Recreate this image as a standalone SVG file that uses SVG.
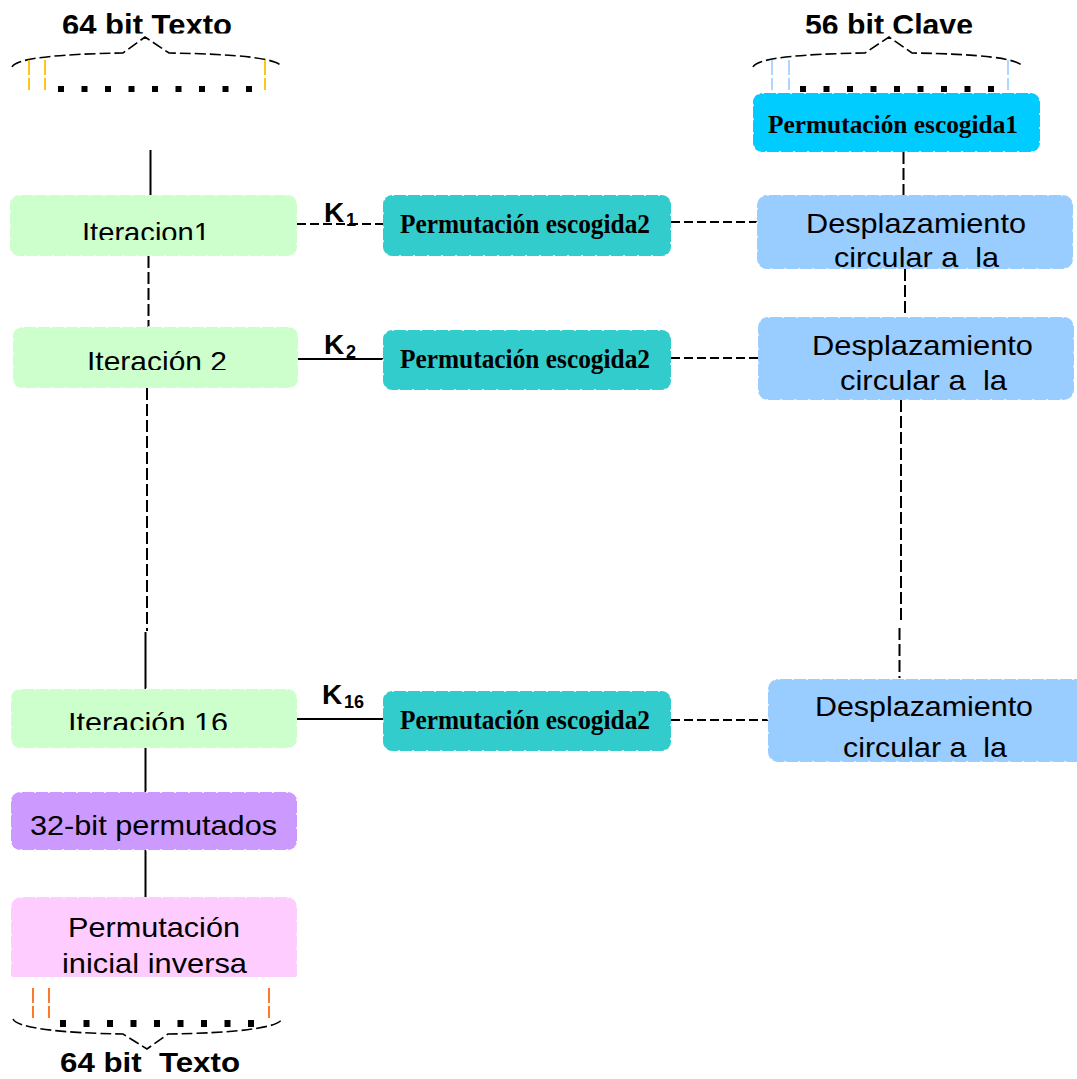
<svg xmlns="http://www.w3.org/2000/svg" width="1077" height="1079" viewBox="0 0 1077 1079">
  <style>
    .box { stroke: #ffffff; stroke-width: 1.5; stroke-dasharray: 2 12; }
    .iter { fill: #CCFFCC; }
    .pc2 { fill: #33CCCC; }
    .pc1 { fill: #00CCFF; }
    .shift { fill: #99CCFF; }
    .p32 { fill: #CC99FF; }
    .inv { fill: #FFCCFF; }
    .sans { font-family: "Liberation Sans", Arial, sans-serif; fill: #000; }
    .lbl { font-size: 28px; text-anchor: middle; }
    .ttl { font-size: 30px; font-weight: bold; text-anchor: middle; }
    .ttl2 { font-size: 28px; font-weight: bold; text-anchor: middle; }
    .serif { font-family: "Liberation Serif", "Times New Roman", serif; font-weight: bold; text-anchor: middle; fill: #000; }
    .s1 { font-size: 26px; }
    .s2 { font-size: 28px; }
    .k { font-size: 28px; font-weight: bold; }
    .ksub { font-size: 18px; font-weight: bold; }
    .solid { stroke: #000; stroke-width: 2; fill: none; }
    .dash { stroke: #000; stroke-width: 2; fill: none; stroke-dasharray: 12 4; }
    .hdash { stroke: #000; stroke-width: 1.8; fill: none; stroke-dasharray: 9 4; }
    .brace { stroke: #000; stroke-width: 1.6; fill: none; stroke-dasharray: 11 4; }
    .dot { fill: #000; }
    .tick { stroke-width: 1.8; stroke-dasharray: 15 3; fill: none; }
    .pre { white-space: pre; }
  </style>
  <defs>
    <clipPath id="clipTop"><rect x="0" y="0" width="1077" height="33.5"/></clipPath>
    <clipPath id="clipIt1"><rect x="0" y="190" width="310" height="50"/></clipPath>
    <clipPath id="clipIt2"><rect x="0" y="320" width="310" height="50"/></clipPath>
    <clipPath id="clipIt16"><rect x="0" y="680" width="310" height="50"/></clipPath>
    <clipPath id="clipInv"><rect x="0" y="890" width="310" height="87"/></clipPath>
  </defs>

  <!-- plaintext input bus -->
  <g id="input-bits">
    <text class="sans ttl" x="147" y="34.5" textLength="170" lengthAdjust="spacingAndGlyphs" clip-path="url(#clipTop)">64 bit Texto</text>
    <path class="brace" d="M12,67 C16,58 60,54 123,53 L145,37 L169,53 C236,54 278,58 282,67"/>
    <g stroke="#FFC000" class="tick">
      <line x1="29" y1="60" x2="29" y2="90"/>
      <line x1="45" y1="60" x2="45" y2="90"/>
      <line x1="265" y1="60" x2="265" y2="90"/>
    </g>
    <g class="dot">
      <rect x="58" y="86" width="6" height="6"/>
      <rect x="81.5" y="86" width="6" height="6"/>
      <rect x="105" y="86" width="6" height="6"/>
      <rect x="128.5" y="86" width="6" height="6"/>
      <rect x="152" y="86" width="6" height="6"/>
      <rect x="175.5" y="86" width="6" height="6"/>
      <rect x="199" y="86" width="6" height="6"/>
      <rect x="222.5" y="86" width="6" height="6"/>
      <rect x="246" y="86" width="6" height="6"/>
    </g>
  </g>

  <!-- key input bus -->
  <g id="key-bits">
    <text class="sans ttl" x="889" y="34.5" textLength="168" lengthAdjust="spacingAndGlyphs" clip-path="url(#clipTop)">56 bit Clave</text>
    <path class="brace" d="M753,67 C757,58 800,54 865,53 L889,37 L912,53 C978,54 1019,58 1023,67"/>
    <g stroke="#A6D2FF" class="tick">
      <line x1="772" y1="60" x2="772" y2="90"/>
      <line x1="789" y1="60" x2="789" y2="90"/>
      <line x1="1008" y1="60" x2="1008" y2="90"/>
    </g>
    <g class="dot">
      <rect x="800" y="86" width="6" height="6"/>
      <rect x="823.5" y="86" width="6" height="6"/>
      <rect x="847" y="86" width="6" height="6"/>
      <rect x="870.5" y="86" width="6" height="6"/>
      <rect x="894" y="86" width="6" height="6"/>
      <rect x="917.5" y="86" width="6" height="6"/>
      <rect x="941" y="86" width="6" height="6"/>
      <rect x="964.5" y="86" width="6" height="6"/>
      <rect x="988" y="86" width="6" height="6"/>
    </g>
  </g>

  <!-- connectors -->
  <g id="connectors">
    <!-- left data path -->
    <line class="solid" x1="150.5" y1="150" x2="150.5" y2="195"/>
    <line class="dash" x1="148.5" y1="256" x2="148.5" y2="327"/>
    <line class="dash" x1="147" y1="388" x2="147" y2="631"/>
    <line class="solid" x1="145.5" y1="632" x2="145.5" y2="689"/>
    <line class="solid" x1="145.5" y1="748" x2="145.5" y2="792"/>
    <line class="solid" x1="145.5" y1="850" x2="145.5" y2="897"/>
    <!-- right key path -->
    <line class="dash" x1="903.5" y1="152" x2="903.5" y2="195"/>
    <line class="dash" x1="905" y1="269" x2="905" y2="317"/>
    <line class="dash" x1="901" y1="400" x2="901" y2="620"/>
    <line class="dash" x1="899.5" y1="628" x2="899.5" y2="678"/>
    <!-- subkey links -->
    <line class="hdash" x1="297" y1="224" x2="383" y2="224"/>
    <line class="hdash" x1="671" y1="222" x2="757" y2="222"/>
    <line class="solid" x1="298" y1="359" x2="383" y2="359"/>
    <line class="hdash" x1="671" y1="358" x2="758" y2="358"/>
    <line class="solid" x1="297" y1="719" x2="383" y2="719"/>
    <line class="hdash" x1="671" y1="720" x2="768" y2="720"/>
    <!-- subkey labels -->
    <text class="sans k" x="324" y="222">K</text>
    <text class="sans ksub" x="346" y="226">1</text>
    <text class="sans k" x="324" y="354">K</text>
    <text class="sans ksub" x="346" y="358">2</text>
    <text class="sans k" x="322" y="704">K</text>
    <text class="sans ksub" x="344" y="708">16</text>
  </g>

  <g id="pc1">
    <rect class="box pc1" x="753" y="93" width="287" height="59" rx="9"/>
    <text class="serif s1" x="893" y="133" textLength="250" lengthAdjust="spacingAndGlyphs">Permutación escogida1</text>
  </g>

  <g id="round1">
    <rect class="box iter" x="10" y="195" width="287" height="61" rx="9"/>
    <text class="sans lbl" x="146" y="242" textLength="128" lengthAdjust="spacingAndGlyphs" clip-path="url(#clipIt1)">Iteracion1</text>
  </g>
  <g id="pc2-1">
    <rect class="box pc2" x="383" y="195" width="288" height="61" rx="9"/>
    <text class="serif s2" x="525" y="233" textLength="250" lengthAdjust="spacingAndGlyphs">Permutación escogida2</text>
  </g>
  <g id="shift1">
    <rect class="box shift" x="757" y="195" width="316" height="74" rx="10"/>
    <text class="sans lbl" x="916" y="233" textLength="220" lengthAdjust="spacingAndGlyphs">Desplazamiento</text>
    <text class="sans lbl pre" xml:space="preserve" x="916.5" y="267" textLength="165" lengthAdjust="spacingAndGlyphs">circular a  la</text>
  </g>

  <g id="round2">
    <rect class="box iter" x="13" y="327" width="285" height="61" rx="9"/>
    <text class="sans lbl" x="157" y="371" textLength="140" lengthAdjust="spacingAndGlyphs" clip-path="url(#clipIt2)">Iteración 2</text>
  </g>
  <g id="pc2-2">
    <rect class="box pc2" x="383" y="330" width="288" height="60" rx="9"/>
    <text class="serif s2" x="525" y="368" textLength="250" lengthAdjust="spacingAndGlyphs">Permutación escogida2</text>
  </g>
  <g id="shift2">
    <rect class="box shift" x="758" y="317" width="316" height="83" rx="10"/>
    <text class="sans lbl" x="922.5" y="355" textLength="221" lengthAdjust="spacingAndGlyphs">Desplazamiento</text>
    <text class="sans lbl pre" xml:space="preserve" x="923.5" y="390" textLength="167" lengthAdjust="spacingAndGlyphs">circular a  la</text>
  </g>

  <g id="round16">
    <rect class="box iter" x="11" y="689" width="286" height="59" rx="9"/>
    <text class="sans lbl" x="148" y="732" textLength="160" lengthAdjust="spacingAndGlyphs" clip-path="url(#clipIt16)">Iteración 16</text>
  </g>
  <g id="pc2-16">
    <rect class="box pc2" x="383" y="691" width="288" height="60" rx="9"/>
    <text class="serif s2" x="525" y="729" textLength="250" lengthAdjust="spacingAndGlyphs">Permutación escogida2</text>
  </g>
  <g id="shift16">
    <rect class="box shift" x="768" y="679" width="320" height="83" rx="10"/>
    <text class="sans lbl" x="924" y="716" textLength="218" lengthAdjust="spacingAndGlyphs">Desplazamiento</text>
    <text class="sans lbl pre" xml:space="preserve" x="925" y="757" textLength="164" lengthAdjust="spacingAndGlyphs">circular a  la</text>
  </g>

  <g id="swap32">
    <rect class="box p32" x="11" y="792" width="286" height="58" rx="9"/>
    <text class="sans lbl" x="153.5" y="835" textLength="247" lengthAdjust="spacingAndGlyphs">32-bit permutados</text>
  </g>

  <g id="inverse-ip" clip-path="url(#clipInv)">
    <rect class="box inv" x="11" y="897" width="286" height="95" rx="10"/>
    <text class="sans lbl" x="154" y="937" textLength="172" lengthAdjust="spacingAndGlyphs">Permutación</text>
    <text class="sans lbl" x="154.5" y="973" textLength="185" lengthAdjust="spacingAndGlyphs">inicial inversa</text>
  </g>

  <!-- ciphertext output bus -->
  <g id="output-bits">
    <g stroke="#FF6A13" class="tick">
      <line x1="33" y1="988" x2="33" y2="1018"/>
      <line x1="49" y1="988" x2="49" y2="1018"/>
      <line x1="269" y1="988" x2="269" y2="1018"/>
    </g>
    <g class="dot">
      <rect x="60" y="1020" width="6" height="7"/>
      <rect x="83.5" y="1020" width="6" height="7"/>
      <rect x="107" y="1020" width="6" height="7"/>
      <rect x="130.5" y="1020" width="6" height="7"/>
      <rect x="154" y="1020" width="6" height="7"/>
      <rect x="177.5" y="1020" width="6" height="7"/>
      <rect x="201" y="1020" width="6" height="7"/>
      <rect x="224.5" y="1020" width="6" height="7"/>
      <rect x="248" y="1020" width="6" height="7"/>
    </g>
    <path class="brace" d="M13,1019 C17,1028 60,1033 123,1034 L147,1049 L168,1034 C236,1033 278,1028 282,1019"/>
    <text class="sans ttl2 pre" xml:space="preserve" x="150" y="1072" textLength="180" lengthAdjust="spacingAndGlyphs">64 bit  Texto</text>
  </g>
</svg>
